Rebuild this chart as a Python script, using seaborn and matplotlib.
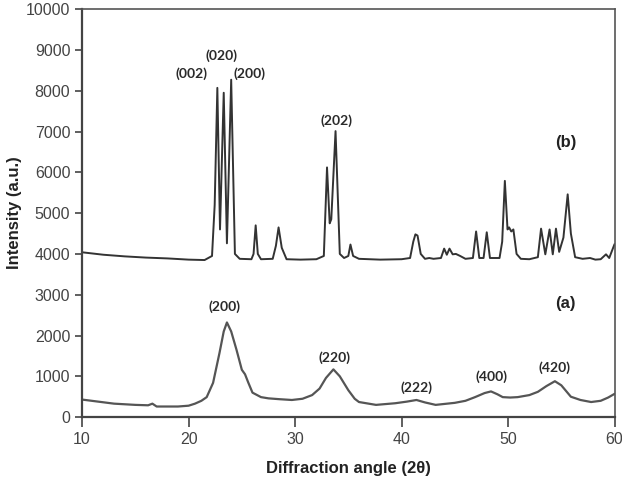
import pandas as pd
import seaborn as sns
import matplotlib.pyplot as plt

# XRD patterns: (b) upper curve, (a) lower curve
angle_b = [10.0, 12.0, 14.0, 16.0, 18.0, 20.0, 21.5, 22.2, 22.45, 22.7, 22.95, 23.3, 23.6,
           24.0, 24.35, 24.8, 25.9, 26.1, 26.3, 26.5, 26.8, 27.9, 28.2, 28.45, 28.75, 29.2,
           30.5, 32.0, 32.7, 33.0, 33.25, 33.4, 33.8, 34.2, 34.6, 35.0, 35.2, 35.45, 36.0,
           38.0, 40.0, 40.8, 41.1, 41.3, 41.5, 41.8, 42.2, 42.6, 43.0, 43.7, 44.0, 44.25,
           44.5, 44.8, 45.1, 45.5, 46.0, 46.7, 47.0, 47.3, 47.7, 48.0, 48.3, 49.2, 49.45,
           49.7, 49.95, 50.1, 50.3, 50.5, 50.8, 51.2, 52.0, 52.8, 53.1, 53.5, 53.9, 54.2,
           54.5, 54.8, 55.2, 55.6, 55.9, 56.3, 57.0, 57.7, 58.2, 58.7, 59.2, 59.5, 60.0]
intensity_b = [4040, 3980, 3940, 3910, 3890, 3860, 3850, 3950, 5200, 8070, 4600, 7950, 4260,
               8270, 4000, 3880, 3870, 4000, 4700, 4000, 3870, 3880, 4200, 4650, 4150, 3870,
               3860, 3870, 3950, 6120, 4750, 4850, 7010, 4000, 3900, 3950, 4230, 3950, 3880,
               3860, 3870, 3900, 4300, 4480, 4450, 4000, 3880, 3900, 3880, 3900, 4130, 3980,
               4130, 3990, 4000, 3950, 3880, 3900, 4550, 3900, 3900, 4530, 3900, 3900, 4300,
               5790, 4600, 4650, 4550, 4600, 4000, 3880, 3870, 3920, 4620, 3990, 4600, 3990,
               4620, 4050, 4400, 5460, 4500, 3920, 3880, 3900, 3860, 3870, 3990, 3900, 4240]

angle_a = [10.0, 11.5, 13.0, 15.0, 16.2, 16.6, 17.0, 18.0, 19.0, 20.0, 20.6, 21.2, 21.7,
           22.3, 22.9, 23.3, 23.6, 24.0, 24.5, 25.0, 25.3, 25.6, 26.0, 26.8, 27.5, 28.5,
           29.7, 30.7, 31.6, 32.3, 32.9, 33.6, 34.2, 35.0, 35.6, 36.0, 37.6, 39.4, 40.5,
           41.4, 42.2, 43.2, 45.0, 46.0, 46.9, 47.8, 48.4, 49.0, 49.5, 50.2, 50.9, 52.0,
           52.8, 53.6, 54.4, 55.0, 55.9, 56.8, 57.8, 58.7, 59.4, 60.0]
intensity_a = [430, 380, 330, 300, 290, 330, 260, 260, 260, 280, 330, 400, 490,
               840, 1570, 2100, 2320, 2100, 1650, 1160, 1050, 850, 600, 490, 460, 440,
               420, 450, 540, 700, 960, 1170, 1000, 660, 450, 370, 300, 340, 380,
               420, 360, 300, 350, 400, 490, 590, 630, 560, 490, 480, 490, 540,
               620, 760, 880, 780, 500, 420, 370, 400, 480, 570]

# Miller indices with their anchor points (angle, intensity)
hkl_b = ["(002)", "(020)", "(200)", "(202)"]
hkl_b_x = [20.3, 23.1, 25.7, 33.9]
hkl_b_y = [8410, 8860, 8410, 7260]
hkl_a = ["(200)", "(220)", "(222)", "(400)", "(420)"]
hkl_a_x = [23.4, 33.7, 41.4, 48.4, 54.4]
hkl_a_y = [2710, 1450, 710, 980, 1210]

df_b = pd.DataFrame({"angle": angle_b, "intensity": intensity_b})
df_a = pd.DataFrame({"angle": angle_a, "intensity": intensity_a})

sns.set_style("ticks")
plt.rcParams['font.family'] = ['Liberation Sans', 'DejaVu Sans']

fig = plt.figure(figsize=(6.22, 4.8), dpi=100)
ax = fig.add_axes([0.132, 0.131, 0.856, 0.85])

sns.lineplot(data=df_b, x="angle", y="intensity", ax=ax, color="#333333", linewidth=1.4)
sns.lineplot(data=df_a, x="angle", y="intensity", ax=ax, color="#555555", linewidth=1.6)

for lab, x, y in zip(hkl_b + hkl_a, hkl_b_x + hkl_a_x, hkl_b_y + hkl_a_y):
    ax.text(x, y, lab, ha="center", va="center", fontsize=10, family="Lato",
            fontweight="bold", color="#2a2a2a")
ax.text(55.4, 6740, "(b)", ha="center", va="center", fontsize=12, fontweight="bold", color="#222222")
ax.text(55.4, 2780, "(a)", ha="center", va="center", fontsize=12, fontweight="bold", color="#222222")

ax.set_xlim(10, 60)
ax.set_ylim(0, 10000)
ax.set_xticks([10, 20, 30, 40, 50, 60])
ax.set_yticks(range(0, 10001, 1000))
ax.tick_params(labelsize=11.5, colors="#444444", length=5, width=1.2)
ax.tick_params(axis="x", length=7)
ax.set_xlabel("Diffraction angle (2\u03b8)", fontsize=12, fontweight="bold", color="#222222", labelpad=10)
ax.set_ylabel("Intensity (a.u.)", fontsize=12, fontweight="bold", color="#222222", labelpad=3)

for side in ["left", "bottom"]:
    ax.spines[side].set_color("#444444")
    ax.spines[side].set_linewidth(1.6)
for side in ["top", "right"]:
    ax.spines[side].set_color("#555555")
    ax.spines[side].set_linewidth(1.2)

fig.savefig("out.png", dpi=100)
